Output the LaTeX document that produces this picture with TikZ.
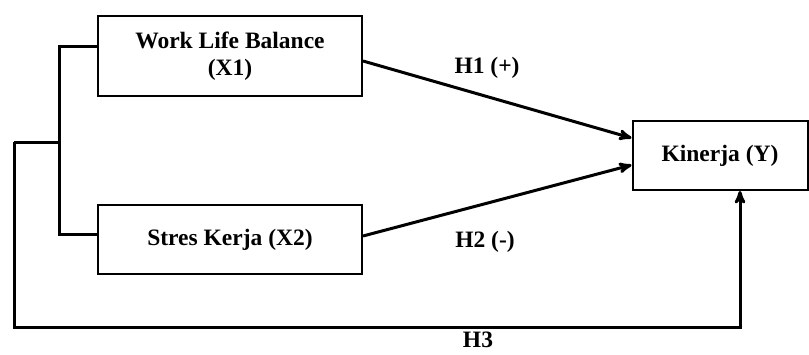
\documentclass[tikz,border=0pt]{standalone}
\usepackage{fontspec}
\setmainfont{Liberation Serif}
\usetikzlibrary{arrows}
\usetikzlibrary{positioning}
\tikzset{
	varbox/.style = {draw=black, line width=2pt, rectangle, align=center,
		inner sep=0pt, font=\fontsize{23.5}{27}\selectfont\bfseries},% kotak variabel
	hlabel/.style = {inner sep=0pt, font=\fontsize{23.5}{27}\selectfont\bfseries},% label hipotesis
	link/.style = {line width=3pt},
	path_a/.style = {->, line width=3pt}
}
\begin{document}
\begin{tikzpicture}[x=1pt,y=-1pt,>=stealth']
	\useasboundingbox (0,0) rectangle (809,354);
	\node [varbox, minimum width=264pt, minimum height=80pt] (x1) at (230,56) {Work Life Balance\\(X1)};
	\node [varbox, minimum width=264pt, minimum height=69pt] (x2) at (230,239.5) {Stres Kerja (X2)};
	\node [varbox, minimum width=175pt, minimum height=69pt] (y) at (720,155.5) {Kinerja (Y)};
	% hipotesis
	\node [hlabel] (h1) at (487,68) {H1 (+)};
	\node [hlabel] (h2) at (485,242) {H2 (-)};
	\node [hlabel] (h3) at (478,340) {H3};
	% kurung kiri
	\coordinate (b1) at (59,46);
	\coordinate (b2) at (59,234);
	\coordinate (bm) at (59,142);
	\coordinate (l1) at (14,142);
	\coordinate (l2) at (14,327);
	\coordinate (r2) at (740,327);
	\draw [link] (x1.west |- b1) -- (b1) -- (b2) -- (x2.west |- b2);
	\draw [link] (bm) -- (l1);
	\draw [path_a] (l1) -- (l2) -- (r2) -- (r2 |- y.south);
	% panah
	\draw [path_a] (x1.east |- 0,61) -- (y.west |- 0,138);
	\draw [path_a] (x2.east |- 0,236) -- (y.west |- 0,165);
\end{tikzpicture}
\end{document}
